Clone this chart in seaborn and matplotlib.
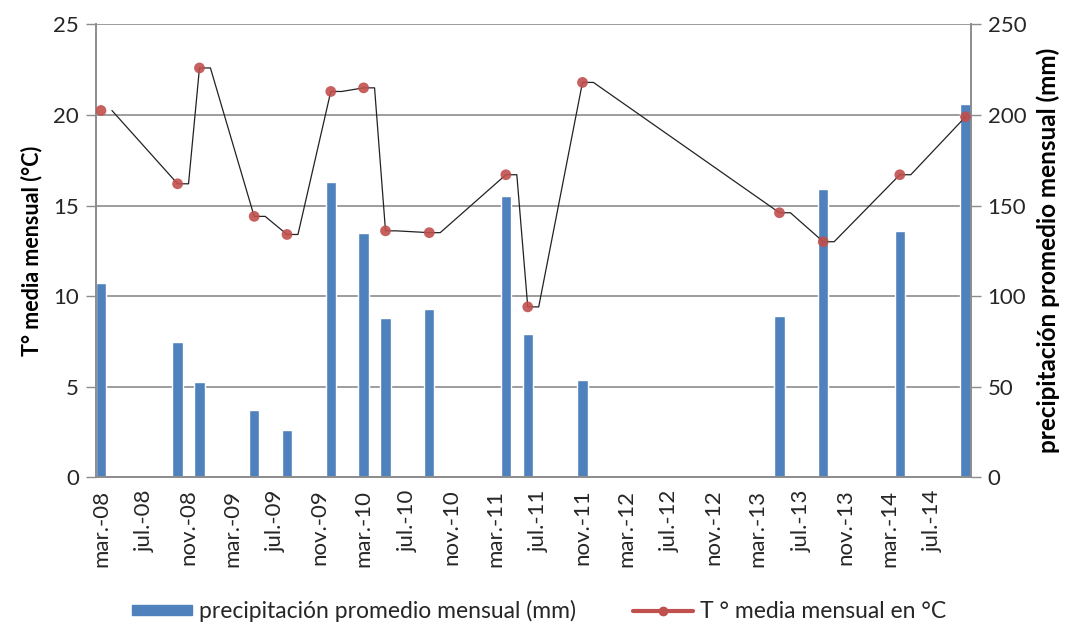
import numpy as np
import pandas as pd
import matplotlib
matplotlib.use('Agg')
import matplotlib.pyplot as plt
import seaborn as sns
from matplotlib.lines import Line2D
from matplotlib.patches import Patch

# month slots on the axis: 0 = mar.-08 ... 79 = oct.-14
n_slots = 80
month_idx = [0, 7, 9, 14, 17, 21, 24, 26, 30, 37, 39, 44, 62, 66, 73, 79]
precip_mm = [107, 74.5, 52.5, 37, 26, 163, 135, 88, 93, 155.5, 79, 53.5, 89, 159, 136, 206]
temp_c = [20.25, 16.2, 22.6, 14.4, 13.4, 21.3, 21.5, 13.6, 13.5, 16.7, 9.4, 21.8, 14.6, 13.0, 16.7, 19.9]

tick_labels = ['mar.-08', 'jul.-08', 'nov.-08', 'mar.-09', 'jul.-09', 'nov.-09',
               'mar.-10', 'jul.-10', 'nov.-10', 'mar.-11', 'jul.-11', 'nov.-11',
               'mar.-12', 'jul.-12', 'nov.-12', 'mar.-13', 'jul.-13', 'nov.-13',
               'mar.-14', 'jul.-14']

BLUE = '#4F81BD'
RED = '#C0504D'
GRID = '#8C8C8C'
TXT = '#262626'

sns.set_style('white')
plt.rcParams['font.family'] = ['Lato', 'DejaVu Sans']

fig = plt.figure(figsize=(10.78, 6.33), dpi=100)
ax = fig.add_axes([0.0886, 0.2464, 0.8121, 0.7149])

# precipitation bars (right scale) on the bottom axes
df = pd.DataFrame({'slot': month_idx, 'precip': precip_mm})
sns.barplot(data=df, x='slot', y='precip', order=list(range(n_slots)),
            color=BLUE, saturation=1, width=0.95, ax=ax, zorder=2)
ax.set_ylim(0, 250)
ax.set_xlim(-0.5, n_slots - 0.5)
ax.set_yticks(range(0, 251, 50))
ax.set_xlabel('')
ax.grid(axis='y', color=GRID, linewidth=1.2, zorder=0)
ax.set_axisbelow(True)
ax.set_xticks(range(0, 77, 4))
ax.set_xticklabels(tick_labels, rotation=90, fontsize=16, color=TXT)
ax.tick_params(axis='x', length=0, pad=9)

# temperature line (left scale) on top
ax2 = ax.twinx()
ax2.set_ylim(0, 25)
ax2.set_yticks(range(0, 26, 5))
ax2.yaxis.tick_left()
ax2.yaxis.set_label_position('left')
ax2.set_ylabel('T° media mensual (°C)', fontsize=15.5, fontweight='bold',
               labelpad=8, color='black')

ax.yaxis.tick_right()
ax.yaxis.set_label_position('right')
ax.set_ylabel('precipitación promedio mensual (mm)', fontsize=17.5, fontweight='bold',
              labelpad=7, color='black')

for a in (ax, ax2):
    a.tick_params(axis='y', direction='out', length=7, color=GRID, width=1,
                  labelsize=16, labelcolor=TXT, pad=5)

idx = np.array(month_idx, dtype=float)
tv = np.array(temp_c)
line_x = np.column_stack([idx, idx + 1]).ravel()[1:-1]
line_y = np.repeat(tv, 2)[1:-1]
sns.lineplot(x=line_x, y=line_y, sort=False, color='#222222', linewidth=0.9, ax=ax2)
sns.scatterplot(x=idx, y=tv, color=RED, s=60, edgecolor='none', alpha=0.9, ax=ax2, zorder=3)

for a in (ax, ax2):
    a.spines['top'].set_visible(False)
    for s in ('left', 'right', 'bottom'):
        a.spines[s].set_color(GRID)
        a.spines[s].set_linewidth(1.2)

handles = [Patch(facecolor=BLUE, edgecolor=BLUE),
           Line2D([0], [0], color=RED, linewidth=3, marker='o', markersize=6)]
labels = ['precipitación promedio mensual (mm)', 'T ° media mensual en °C']
fig.legend(handles, labels, loc='center', bbox_to_anchor=(0.5, 0.035), ncol=2,
           frameon=False, fontsize=16.5, handlelength=2.6, handleheight=0.3,
           columnspacing=2.5, handletextpad=0.3, labelcolor=TXT)

fig.savefig('out.png', dpi=100)
